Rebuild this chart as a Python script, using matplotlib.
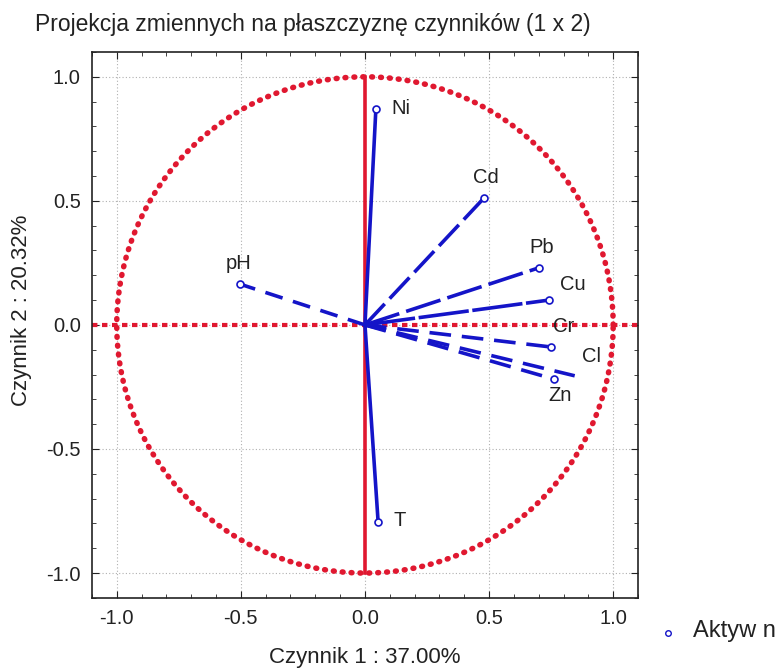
import numpy as np
import matplotlib
matplotlib.use("Agg")
import matplotlib.pyplot as plt
from matplotlib.ticker import MultipleLocator

# factor loadings
variables = ["Ni", "Cd", "Pb", "Cu", "Cr", "Cl", "Zn", "T", "pH"]
factor1 = [0.044, 0.48, 0.70, 0.74, 0.75, 0.845, 0.76, 0.053, -0.505]
factor2 = [0.871, 0.512, 0.23, 0.10, -0.089, -0.205, -0.218, -0.794, 0.165]
styles = ["-", (0, (8, 2)), (0, (10, 2)), (0, (14, 1)), (0, (6, 3)),
          (0, (6, 3)), (0, (6, 3)), "-", (0, (5, 3))]
# label offsets in points (x, y)
label_off = [(11, 0), (-8, 15), (-7, 15), (8, 11), (1, 15), (5, 14),
             (-4, -12), (11, 1), (-10, 15)]
show_marker = [True, True, True, True, True, False, True, True, True]

title = "Projekcja zmiennych na płaszczyznę czynników (1 x 2)"
xlabel = "Czynnik 1 : 37.00%"
ylabel = "Czynnik 2 : 20.32%"
legend_text = "Aktyw n"

plt.rcParams['font.family'] = ['Liberation Sans', 'DejaVu Sans']

fig = plt.figure(figsize=(7.79, 6.71), dpi=100)
ax = fig.add_axes([0.118, 0.109, 0.701, 0.8135])

red = "#e01830"
blue = "#1414c8"
txt = "#222222"

# unit circle
t = np.linspace(0, 2 * np.pi, 400)
ax.plot(np.cos(t), np.sin(t), color=red, lw=4, linestyle=(0, (0.15, 1.45)),
        dash_capstyle="round", zorder=2)
# axes through origin
ax.plot([0, 0], [-1, 1], color=red, lw=2.6, zorder=2)
ax.axhline(0, color=red, lw=3, linestyle=(0, (1.3, 1.1)), zorder=2)

for name, x, y, ls, off, mk in zip(variables, factor1, factor2, styles,
                                   label_off, show_marker):
    ax.plot([0, x], [0, y], color=blue, lw=2.6, linestyle=ls, zorder=3)
    if mk:
        ax.plot(x, y, marker="o", ms=5, mfc="white", mec=blue, mew=1.2,
                zorder=4)
    ax.annotate(name, (x, y), xytext=off, textcoords="offset points",
                fontsize=14.5, color=txt, ha="left", va="center")

ax.set_xlim(-1.1, 1.1)
ax.set_ylim(-1.1, 1.1)
ax.xaxis.set_major_locator(MultipleLocator(0.5))
ax.yaxis.set_major_locator(MultipleLocator(0.5))
ax.xaxis.set_minor_locator(MultipleLocator(0.1))
ax.yaxis.set_minor_locator(MultipleLocator(0.1))
ax.tick_params(which="both", direction="in", top=True, right=True,
               labelsize=14.5, colors=txt, pad=8)
ax.tick_params(which="major", length=5)
ax.tick_params(which="minor", length=3)
ax.xaxis.set_major_formatter(plt.FormatStrFormatter("%.1f"))
ax.yaxis.set_major_formatter(plt.FormatStrFormatter("%.1f"))
ax.grid(True, which="major", color="#b0b0b0", linestyle=(0, (1, 2)), lw=0.8)
for s in ax.spines.values():
    s.set_linewidth(1.2)
    s.set_color(txt)

ax.set_xlabel(xlabel, fontsize=16, color=txt, labelpad=14)
fig.text(22 / 779, 1 - 310 / 671, ylabel, fontsize=16, color=txt,
         rotation=90, ha="center", va="center")
fig.text(35 / 779, 1 - 25 / 671, title, fontsize=16.5, color=txt, va="center")

# legend entry (cut off at the right edge like the original)
fig.lines.append(plt.Line2D([668 / 779], [1 - 633 / 671],
                            transform=fig.transFigure, marker="o", ms=4,
                            mfc="white", mec=blue, mew=1))
fig.text(693 / 779, 1 - 631 / 671, legend_text, fontsize=17, color=txt,
         va="center")

fig.savefig("out.png", dpi=100)
